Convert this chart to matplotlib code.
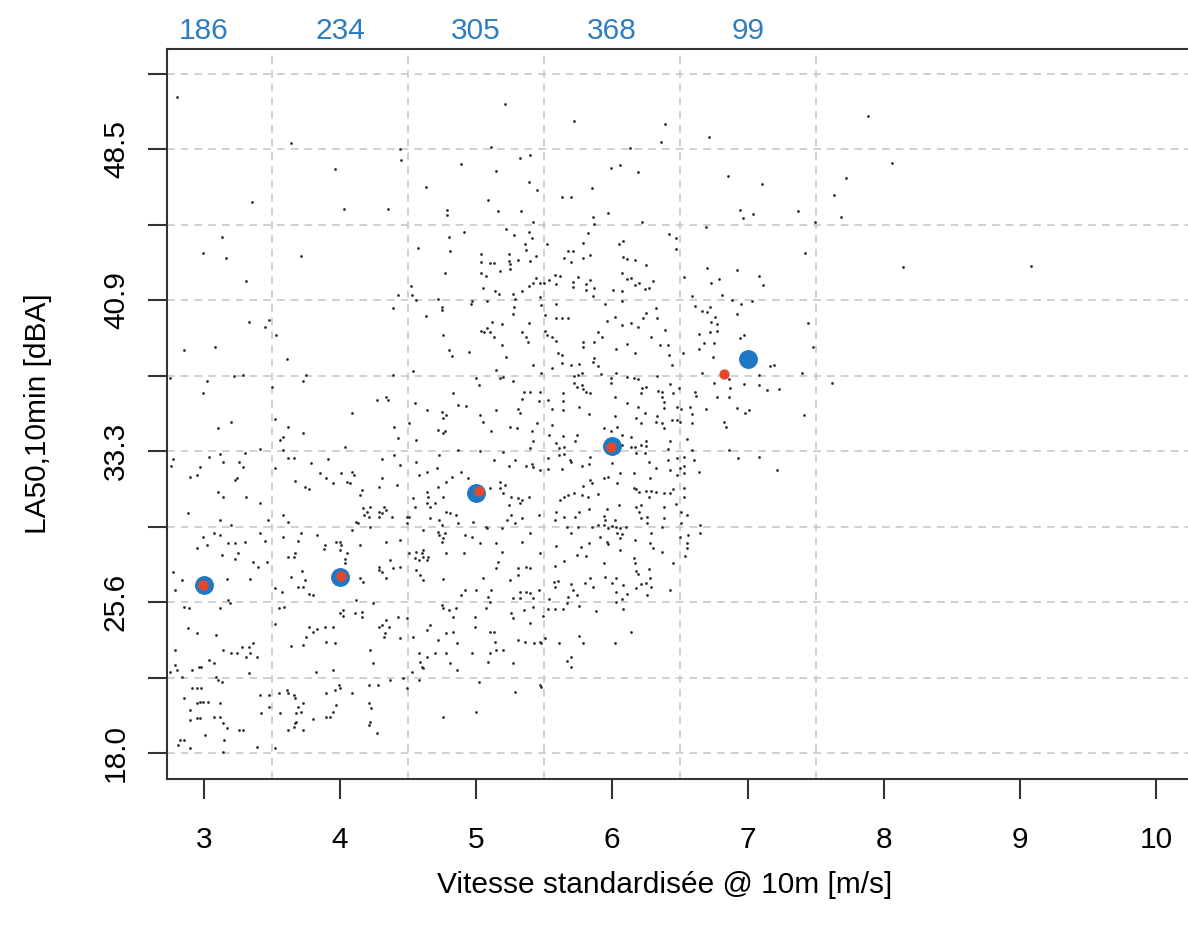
import matplotlib
matplotlib.use('Agg')
import matplotlib.pyplot as plt

plt.rcParams['font.family'] = ['Liberation Sans', 'DejaVu Sans']

# classes de vitesse (centres, bornes) et effectifs
speed_bins = [3, 4, 5, 6, 7]
bin_counts = [186, 234, 305, 368, 99]
bin_edges = [3.5, 4.5, 5.5, 6.5, 7.5]

# valeurs par classe (bleu) et valeurs retenues (rouge)
mean_speed = [3.0, 4.0, 5.0, 6.0, 7.0]
mean_level = [26.49, 26.91, 31.16, 33.53, 37.90]
fit_speed = [2.99, 4.01, 5.02, 5.99, 6.82]
fit_level = [26.49, 26.95, 31.26, 33.48, 37.14]

# axes
x_ticks = [3, 4, 5, 6, 7, 8, 9, 10]
y_ticks = [18.0, 21.8125, 25.625, 29.4375, 33.25, 37.0625, 40.875, 44.6875, 48.5, 52.3125]
y_labels = ['18.0', '', '25.6', '', '33.3', '', '40.9', '', '48.5', '']

pts_haut_gauche = [
    (2.80, 51.17), (3.64, 48.81), (4.44, 48.51), (4.45, 47.97), (3.96, 47.50), (3.35, 45.86), (4.03, 45.49),
    (4.35, 45.49), (5.21, 50.80), (5.11, 48.64), (5.32, 48.09), (5.40, 48.22), (4.89, 47.78), (5.15, 47.43),
    (4.63, 46.60), (5.39, 46.86), (5.45, 46.45), (5.09, 45.93), (5.16, 45.39), (5.33, 45.39), (4.79, 45.44),
    (4.79, 45.17), (5.42, 44.82), (5.22, 44.50), (4.91, 44.35), (5.39, 44.31), (5.28, 44.16), (5.41, 44.01),
    (4.80, 44.09), (5.36, 43.74), (5.37, 43.42), (4.81, 43.39), (4.57, 43.52), (3.13, 44.09), (2.99, 43.28),
    (3.16, 43.01), (3.71, 43.10), (5.04, 43.20), (5.24, 43.20), (5.04, 42.80), (5.10, 42.78), (5.13, 42.76),
    (5.24, 42.88), (5.25, 42.70), (5.31, 42.91), (5.40, 42.88), (5.44, 43.10), (5.18, 42.37), (5.25, 42.46),
    (4.77, 42.26), (5.04, 42.26), (5.07, 42.09), (5.44, 42.02), (5.42, 41.77), (5.47, 41.77), (5.39, 41.60),
    (3.31, 41.84), (4.52, 41.60), (4.43, 41.16), (4.53, 41.13), (4.56, 40.91), (4.72, 40.93), (5.05, 41.48),
    (5.14, 41.36), (5.17, 41.20), (5.27, 41.20), (5.34, 41.35), (5.29, 40.96), (5.47, 41.06), (4.97, 40.83),
    (4.96, 40.71), (5.08, 40.83), (4.39, 40.47), (4.75, 40.56), (4.75, 40.41), (5.28, 40.56), (5.27, 40.19),
    (4.63, 40.09), (3.33, 39.76), (3.45, 39.51), (3.48, 39.86), (3.53, 39.11), (5.12, 39.78), (5.19, 39.70),
    (5.39, 39.73), (4.76, 39.14), (5.04, 39.34), (5.06, 39.26), (5.08, 39.50), (5.10, 39.28), (5.13, 39.01),
    (5.34, 39.29), (5.37, 39.01), (5.38, 38.77), (5.19, 38.62), (4.80, 38.37), (4.82, 38.07), (4.95, 38.27),
    (5.22, 38.03), (2.85, 38.37), (3.08, 38.54), (3.61, 37.91),
]

pts_bas_gauche = [
    (2.75, 36.93), (3.02, 36.82), (3.22, 37.05), (3.29, 37.10), (2.99, 36.18), (3.50, 36.51), (3.73, 36.82),
    (3.75, 37.10), (4.39, 37.10), (4.54, 37.32), (5.15, 37.35), (5.18, 36.93), (5.20, 36.98), (5.27, 36.82),
    (5.00, 36.93), (5.02, 36.60), (5.42, 37.61), (5.35, 36.26), (5.40, 36.26), (5.47, 36.26),
    (4.27, 35.84), (4.34, 35.97), (4.35, 35.84), (4.09, 35.16), (4.55, 35.67), (4.64, 35.33), (4.75, 35.25),
    (4.76, 34.91), (4.78, 35.08), (4.83, 36.18), (4.87, 35.59), (4.93, 35.54), (5.03, 35.08), (5.05, 34.74),
    (5.15, 35.33), (5.25, 34.49), (5.31, 35.37), (5.32, 35.16), (5.34, 35.87), (5.46, 35.79), (5.30, 34.41),
    (5.41, 34.27), (5.45, 34.66), (5.11, 34.27), (5.42, 33.78), (3.10, 34.41), (3.20, 34.74), (3.52, 34.86),
    (3.62, 34.49), (3.56, 33.82), (3.58, 33.99), (3.73, 34.15), (4.04, 33.45), (4.40, 34.46), (4.43, 33.90),
    (4.51, 34.66), (4.56, 33.82), (4.72, 34.32), (4.76, 34.19), (4.77, 34.27),
    (2.77, 32.84), (2.76, 32.50), (2.90, 31.93), (2.95, 32.05), (2.97, 32.44), (3.04, 32.98), (3.12, 33.11),
    (3.14, 32.72), (3.23, 31.80), (3.24, 31.88), (3.26, 32.72), (3.30, 33.14), (3.29, 32.47), (3.41, 33.35),
    (3.52, 32.39), (3.58, 33.31), (3.62, 32.89), (3.66, 32.89), (3.79, 32.64), (3.85, 32.13), (3.91, 32.86),
    (3.90, 31.88), (3.95, 31.63), (4.01, 32.13), (4.05, 31.71), (4.07, 31.63), (4.09, 32.22), (4.10, 32.05),
    (3.67, 31.73), (3.74, 31.43), (3.77, 31.32), (4.16, 31.29), (4.15, 31.04), (4.29, 31.46), (4.31, 32.84),
    (4.40, 33.06), (4.44, 32.55), (4.42, 31.54), (4.31, 31.88), (4.58, 32.05), (4.64, 32.22), (4.64, 31.21),
    (4.65, 30.95), (4.56, 32.72), (4.71, 32.39), (4.72, 31.46), (4.78, 31.71), (4.76, 30.95), (4.82, 31.96),
    (4.89, 32.22), (4.87, 33.31), (4.73, 33.06), (4.94, 31.88), (5.03, 33.28), (5.13, 32.81), (5.20, 33.23),
    (5.24, 32.50), (5.29, 32.81), (5.37, 32.50), (5.41, 32.59), (5.42, 32.47), (5.47, 32.30), (5.10, 31.41),
    (5.18, 31.71), (5.18, 31.37), (5.20, 31.12), (5.21, 31.54), (5.26, 30.95), (5.31, 30.87), (5.34, 30.79),
    (5.32, 30.62), (5.39, 30.95), (5.40, 33.40),
    (3.10, 31.21), (3.14, 30.95), (3.31, 30.95), (3.41, 30.65), (2.88, 30.11), (3.12, 29.77), (3.20, 29.52),
    (3.47, 29.77), (3.45, 28.71), (3.41, 29.10), (3.58, 30.03), (3.62, 29.69), (3.58, 28.93), (3.71, 29.10),
    (3.69, 28.71), (3.83, 29.02), (3.88, 28.29), (3.89, 28.51), (4.00, 28.68), (4.01, 28.51), (4.12, 29.69),
    (4.13, 29.61), (4.09, 29.27), (4.15, 28.51), (4.17, 30.36), (4.18, 30.03), (4.20, 30.20), (4.22, 30.45),
    (4.21, 29.94), (4.29, 30.20), (4.31, 30.11), (4.29, 29.94), (4.32, 30.45), (4.34, 30.28), (4.38, 29.94),
    (4.22, 29.44), (4.34, 28.68), (4.44, 28.76), (4.49, 29.94), (4.49, 29.61), (4.51, 29.94), (4.54, 30.87),
    (4.55, 30.45), (4.61, 29.27), (4.64, 30.62), (4.66, 30.45), (4.66, 29.86), (4.70, 30.62), (4.72, 29.19),
    (4.73, 29.02), (4.75, 28.68), (4.76, 28.85), (4.77, 29.10), (4.73, 29.77), (4.75, 29.52), (4.81, 30.11),
    (4.85, 30.03), (4.87, 29.61), (4.78, 30.20), (4.92, 29.02), (4.97, 28.93), (4.98, 29.69), (5.03, 28.60),
    (5.07, 29.44), (5.08, 29.35), (5.15, 28.60), (5.24, 30.53), (5.26, 30.03), (5.29, 29.61), (5.34, 29.86),
    (5.46, 30.03), (5.40, 29.10), (5.34, 28.68), (5.19, 29.35), (5.23, 29.77),
    (2.77, 27.16), (2.84, 26.74), (2.79, 26.24), (2.95, 28.34), (2.99, 28.93), (3.07, 29.10), (3.12, 29.02),
    (3.02, 28.51), (3.13, 28.01), (3.18, 28.60), (3.23, 28.60), (3.25, 28.12), (3.23, 27.79), (3.30, 28.68),
    (3.36, 27.67), (3.40, 27.38), (3.46, 27.67), (3.34, 26.79), (3.17, 26.79), (3.52, 26.32), (3.57, 26.15),
    (3.62, 27.89), (3.66, 27.89), (3.67, 28.09), (3.72, 27.20), (3.74, 26.74), (3.69, 26.41), (3.73, 26.41),
    (3.80, 25.99), (3.77, 26.04), (3.64, 26.91), (3.97, 28.68), (4.00, 28.26), (4.04, 27.79), (4.04, 27.59),
    (4.05, 28.09), (4.15, 26.83), (4.17, 26.66), (4.29, 27.42), (4.29, 27.25), (4.37, 27.75), (4.39, 27.33),
    (4.44, 27.42), (4.34, 26.83), (4.31, 27.16), (4.51, 28.09), (4.55, 27.84), (4.56, 28.17), (4.60, 28.09),
    (4.61, 27.92), (4.64, 27.75), (4.65, 27.92), (4.58, 27.75), (4.61, 28.26), (4.56, 27.25), (4.59, 27.00),
    (4.61, 26.74), (4.76, 26.78), (4.78, 28.09), (4.91, 28.09), (4.92, 26.24), (4.89, 25.99), (5.00, 26.24),
    (5.05, 26.83), (5.11, 26.24), (5.09, 25.90), (5.15, 27.33), (5.16, 27.67), (5.19, 28.17), (5.25, 26.74),
    (5.31, 27.00), (5.32, 26.15), (5.32, 25.82), (5.37, 27.42), (5.40, 27.33), (5.37, 26.15), (5.46, 26.24),
    (5.47, 28.09), (5.31, 27.33), (5.40, 26.07), (5.42, 25.82), (5.27, 25.82),
    (2.85, 25.36), (2.89, 25.31), (2.88, 24.30), (2.95, 24.05), (3.09, 23.96), (3.12, 25.31), (3.18, 25.73),
    (3.19, 25.60), (3.24, 23.04), (3.33, 23.37), (3.36, 23.54), (3.34, 23.04), (3.39, 22.87), (3.52, 24.52),
    (3.55, 25.31), (3.59, 25.40), (3.64, 23.41), (3.73, 23.46), (3.75, 23.88), (3.77, 24.39), (3.80, 24.13),
    (3.83, 24.25), (3.89, 24.39), (3.90, 23.63), (3.96, 23.58), (3.95, 24.39), (4.00, 25.06), (4.02, 25.23),
    (4.02, 24.92), (4.11, 25.06), (4.12, 25.73), (4.16, 25.14), (4.16, 24.89), (4.24, 25.56), (4.29, 24.39),
    (4.31, 24.47), (4.34, 24.72), (4.36, 24.39), (4.33, 24.05), (4.32, 23.88), (4.43, 24.89), (4.44, 23.80),
    (4.49, 24.81), (4.54, 23.88), (4.64, 24.22), (4.66, 24.47), (4.72, 23.71), (4.75, 25.48), (4.76, 25.31),
    (4.80, 25.23), (4.83, 24.89), (4.85, 25.31), (4.78, 24.05), (4.83, 24.13), (4.86, 23.54), (4.99, 24.39),
    (4.99, 24.89), (5.07, 25.31), (5.10, 25.65), (5.13, 24.13), (5.26, 25.06), (5.27, 24.81), (5.35, 25.23),
    (5.40, 24.55), (5.42, 25.40), (5.43, 23.54), (5.47, 23.63), (5.14, 23.63), (5.10, 24.13), (5.31, 23.71),
    (5.36, 23.63),
    (2.79, 23.21), (2.79, 22.45), (2.80, 22.20), (2.75, 22.11), (2.84, 21.86), (2.91, 22.20), (2.96, 22.36),
    (2.98, 22.36), (3.04, 22.70), (3.07, 22.53), (3.09, 21.86), (3.10, 21.69), (3.13, 21.61), (3.14, 23.21),
    (3.20, 23.04), (3.28, 23.37), (3.31, 22.87), (3.33, 22.03), (2.91, 21.27), (2.95, 21.27), (2.98, 21.27),
    (3.41, 20.93), (3.48, 20.93), (3.55, 21.02), (3.61, 21.18), (3.62, 21.02), (3.66, 20.93), (3.67, 20.76),
    (3.82, 22.11), (3.95, 22.20), (3.90, 21.02), (3.96, 21.18), (3.99, 21.44), (4.00, 21.27), (4.09, 21.02),
    (4.21, 21.44), (4.22, 23.21), (4.24, 22.53), (4.28, 21.44), (4.37, 21.69), (4.46, 21.77), (4.49, 21.27),
    (4.53, 22.11), (4.58, 23.04), (4.59, 22.62), (4.60, 22.36), (4.61, 22.28), (4.64, 22.87), (4.58, 21.69),
    (4.70, 23.04), (4.78, 23.04), (4.81, 22.53), (4.86, 22.20), (4.97, 23.04), (5.02, 21.61), (5.09, 22.62),
    (5.10, 23.04), (5.15, 23.21), (5.20, 23.21), (5.27, 22.53), (5.29, 21.10), (5.47, 21.44),
    (2.85, 20.76), (2.90, 20.17), (2.95, 20.51), (2.97, 20.60), (2.99, 20.60), (3.03, 20.60), (2.90, 19.67),
    (2.95, 19.75), (2.97, 19.75), (3.07, 19.84), (3.12, 19.84), (3.14, 19.50), (3.12, 20.51), (3.17, 19.25),
    (3.26, 19.16), (3.29, 19.16), (3.01, 18.91), (3.15, 18.66), (2.82, 18.66), (2.81, 18.40), (2.85, 18.66),
    (2.90, 18.24), (3.14, 18.07), (3.39, 18.32), (3.42, 20.01), (3.48, 20.34), (3.52, 18.24), (3.56, 20.01),
    (3.62, 19.16), (3.66, 19.33), (3.67, 19.50), (3.68, 19.58), (3.68, 20.01), (3.69, 20.34), (3.71, 20.09),
    (3.73, 20.51), (3.73, 19.16), (3.80, 19.70), (3.90, 19.80), (3.93, 19.84), (3.95, 20.09), (3.97, 20.43),
    (4.21, 20.51), (4.23, 20.26), (4.22, 19.58), (4.21, 19.42), (4.27, 19.00), (4.76, 19.84), (5.00, 20.09),
]

pts_haut_milieu = [
    (5.72, 49.94), (6.39, 49.79), (6.36, 48.86), (6.13, 48.56), (6.71, 49.15), (5.99, 47.55), (6.06, 47.70),
    (6.19, 47.36), (5.85, 46.54), (5.63, 46.11), (5.70, 46.11), (6.85, 47.16), (7.10, 46.75), (5.97, 45.27),
    (5.86, 45.10), (5.87, 44.73), (6.22, 44.83), (6.94, 45.46), (6.96, 45.05), (7.04, 45.26), (7.37, 45.39),
    (7.49, 44.82), (6.69, 44.57), (5.82, 44.28), (6.42, 44.24), (6.47, 44.03), (6.47, 43.49), (5.52, 43.71),
    (5.79, 43.77), (6.05, 43.71), (6.08, 43.86), (5.68, 43.39), (5.71, 43.39), (5.65, 43.03), (5.79, 43.00),
    (5.84, 43.17), (5.70, 42.81), (6.08, 43.05), (6.11, 42.96), (6.17, 42.90), (6.25, 42.66), (7.42, 43.27),
    (6.70, 42.53), (6.92, 42.43), (5.58, 42.16), (5.62, 42.11), (5.54, 41.90), (5.50, 41.75), (5.59, 41.70),
    (5.75, 42.04), (5.71, 41.80), (5.71, 41.53), (5.84, 41.90), (5.81, 41.72), (5.87, 41.50), (5.81, 41.38),
    (6.07, 42.26), (6.11, 41.94), (6.14, 42.00), (6.17, 41.67), (6.20, 41.77), (6.24, 41.47), (6.27, 41.50),
    (6.30, 41.87), (6.01, 41.38), (6.07, 41.33), (5.86, 41.08), (6.53, 42.04), (6.73, 41.77), (6.79, 41.95),
    (7.08, 42.09), (7.11, 41.63), (5.48, 40.64), (5.59, 40.71), (5.95, 40.71), (6.07, 40.83), (6.59, 41.08),
    (6.61, 40.61), (6.81, 41.13), (6.88, 40.91), (6.95, 40.71), (7.03, 40.86), (5.51, 40.13), (5.59, 40.00),
    (5.63, 40.00), (5.68, 39.97), (5.96, 39.85), (6.02, 40.05), (6.07, 39.65), (6.14, 39.71), (6.19, 39.55),
    (6.23, 39.97), (6.25, 40.25), (6.32, 40.49), (6.33, 39.97), (6.66, 40.35), (6.70, 40.30), (6.72, 40.54),
    (6.76, 40.03), (6.92, 40.17), (5.51, 39.34), (5.52, 39.11), (5.56, 39.01), (5.59, 38.82), (5.90, 39.29),
    (5.93, 39.01), (6.29, 39.01), (6.39, 39.36), (5.79, 38.79), (5.79, 38.52), (5.87, 38.79), (5.60, 38.20),
    (5.63, 38.13), (5.87, 37.98), (6.03, 38.43), (6.11, 38.67), (6.17, 38.21), (6.35, 38.62), (6.41, 38.62),
    (6.42, 38.10), (6.52, 38.21), (6.64, 39.19), (6.64, 38.40), (6.68, 38.74), (6.72, 39.26), (6.73, 39.80),
    (6.77, 39.66), (6.77, 39.34), (6.75, 38.72), (6.74, 38.03), (6.94, 38.97), (6.97, 39.12), (7.44, 39.73),
    (7.48, 38.53), (7.63, 46.22),
]

pts_bas_milieu = [
    (5.63, 37.69), (5.70, 37.61), (5.76, 37.66), (5.86, 37.78), (5.90, 37.56), (5.56, 37.44), (5.48, 37.19),
    (5.72, 37.05), (5.75, 37.10), (5.78, 37.19), (5.92, 37.15), (6.03, 37.19), (5.99, 36.93), (5.99, 36.71),
    (6.11, 36.98), (6.16, 36.93), (6.19, 36.88), (6.33, 37.07), (6.44, 37.61), (6.43, 36.65), (5.72, 36.71),
    (5.74, 36.51), (5.78, 36.60), (5.79, 36.38), (5.81, 36.23), (5.84, 36.21), (5.64, 36.21), (6.22, 36.43),
    (6.25, 36.48), (6.21, 36.18), (6.34, 36.31), (6.37, 36.26), (6.45, 36.21), (6.49, 36.43), (6.66, 37.22),
    (6.61, 36.26), (6.62, 36.04), (6.75, 36.68), (6.86, 36.88), (6.87, 36.43), (6.97, 36.65), (7.08, 36.60),
    (7.14, 36.34), (7.23, 36.38), (7.08, 37.10), (7.16, 37.56), (7.19, 37.61), (7.40, 37.19), (7.62, 36.71),
    (5.53, 35.84), (5.64, 35.79), (5.56, 35.37), (5.64, 35.33), (5.76, 35.47), (5.83, 35.12), (6.02, 35.97),
    (6.11, 35.71), (6.02, 35.03), (6.19, 35.50), (6.24, 35.17), (6.18, 34.91), (6.21, 34.66), (6.33, 35.03),
    (6.32, 34.74), (6.37, 36.01), (6.38, 35.75), (6.38, 35.42), (6.37, 34.69), (6.38, 34.41), (6.44, 34.83),
    (6.48, 35.50), (6.48, 34.83), (6.50, 34.74), (6.51, 35.37), (6.59, 35.13), (6.59, 34.66), (6.57, 35.50),
    (6.69, 35.37), (6.77, 35.97), (6.86, 35.97), (6.92, 35.42), (6.98, 35.17), (7.01, 35.33), (6.82, 34.74),
    (6.84, 34.46), (7.41, 35.08), (5.56, 34.58), (5.54, 34.07), (5.74, 34.07), (5.73, 33.78), (5.64, 34.02),
    (5.94, 34.41), (5.99, 34.29), (6.04, 34.49), (6.07, 34.07), (6.14, 33.99), (6.25, 33.78), (6.43, 33.78),
    (6.55, 33.88),
    (5.59, 33.65), (5.61, 33.40), (5.65, 33.48), (5.61, 33.06), (5.65, 33.11), (5.53, 32.89), (5.69, 32.81),
    (5.84, 32.98), (6.07, 33.57), (6.14, 33.45), (6.17, 33.48), (6.21, 33.57), (6.25, 33.51), (6.18, 33.14),
    (6.24, 33.14), (6.41, 33.35), (6.48, 32.89), (6.53, 32.98), (6.59, 33.31), (6.60, 32.81), (6.86, 33.31),
    (6.93, 32.89), (7.08, 32.98), (7.21, 32.30), (5.53, 32.34), (5.63, 32.34), (5.70, 32.72), (5.78, 32.50),
    (5.83, 32.59), (6.00, 32.64), (6.06, 32.13), (6.16, 32.17), (6.27, 32.72), (6.32, 32.39), (6.28, 31.88),
    (6.41, 32.81), (6.43, 32.30), (6.48, 32.05), (6.50, 32.39), (6.53, 32.50), (6.53, 32.17), (6.64, 32.22),
    (5.94, 31.88), (5.97, 31.93), (6.04, 31.66), (5.84, 31.80), (5.79, 31.49), (5.85, 31.66), (6.16, 31.38),
    (6.18, 31.33), (6.20, 31.21), (6.25, 31.24), (6.29, 31.26), (6.32, 31.17), (6.38, 31.16), (6.43, 31.16),
    (6.45, 31.33), (6.53, 31.38), (6.53, 30.92),
    (5.62, 30.79), (5.65, 30.95), (5.68, 31.04), (5.72, 31.12), (5.78, 31.04), (5.82, 30.95), (5.90, 31.09),
    (5.83, 30.33), (5.76, 30.20), (5.73, 29.94), (5.65, 29.94), (5.59, 30.20), (5.58, 29.77), (6.05, 30.53),
    (5.96, 30.33), (5.94, 30.00), (5.95, 29.77), (6.02, 29.77), (6.18, 30.45), (6.21, 30.53), (6.20, 30.16),
    (6.21, 29.86), (6.26, 29.91), (6.26, 29.61), (6.27, 30.95), (6.38, 30.42), (6.38, 29.86), (6.47, 30.58),
    (6.51, 30.20), (6.55, 30.03), (6.51, 29.64), (6.65, 29.52), (6.65, 29.14), (5.67, 29.44), (5.70, 29.10),
    (5.75, 29.44), (5.85, 29.40), (5.90, 29.52), (5.94, 29.52), (5.97, 29.35), (6.00, 29.47), (6.03, 29.44),
    (6.06, 29.35), (6.10, 29.44), (6.04, 29.10), (6.07, 29.07), (6.06, 28.85), (5.91, 28.93), (5.96, 28.68),
    (5.97, 28.56), (5.83, 28.63), (5.77, 28.43), (6.29, 29.10), (6.37, 29.44), (6.50, 28.93), (6.56, 29.02),
    (6.17, 28.76), (6.28, 28.63), (5.59, 28.46),
    (5.74, 28.01), (5.81, 27.96), (5.65, 27.72), (5.58, 27.47), (6.16, 27.84), (6.17, 27.59), (6.06, 28.26),
    (6.18, 27.21), (6.19, 27.05), (6.27, 27.28), (6.30, 28.34), (6.37, 28.17), (6.45, 27.59), (6.55, 28.63),
    (6.55, 28.34), (6.54, 27.96), (5.94, 27.62), (5.95, 26.91), (6.00, 26.61), (6.03, 26.83), (6.08, 26.47),
    (5.84, 26.83), (5.86, 26.41), (5.80, 26.61), (5.57, 26.66), (5.60, 26.71), (5.58, 26.37), (5.70, 26.54),
    (5.71, 26.24), (5.74, 25.99), (5.76, 25.45), (5.68, 25.87), (5.67, 25.56), (5.54, 25.77), (5.58, 25.26),
    (5.53, 25.26), (5.64, 25.26), (5.49, 24.92), (6.03, 26.15), (6.07, 25.77), (6.11, 26.02), (6.03, 25.65),
    (6.08, 25.26), (6.18, 26.32), (6.21, 26.54), (6.25, 26.57), (6.26, 25.97), (6.29, 26.41), (6.28, 26.83),
    (6.43, 26.24), (5.88, 25.18), (6.14, 24.13), (5.51, 23.80), (5.48, 23.54), (5.61, 23.58), (5.76, 23.91),
    (5.79, 23.58), (6.02, 23.54), (5.67, 22.65), (5.70, 22.87), (5.70, 22.33), (5.48, 21.35),
]

pts_droite = [(7.88, 50.19), (8.06, 47.80), (7.72, 47.04), (7.68, 45.10), (8.14, 42.58), (9.08, 42.61)]

all_pts = pts_haut_gauche + pts_bas_gauche + pts_haut_milieu + pts_bas_milieu + pts_droite
speed = [p[0] for p in all_pts]
level = [p[1] for p in all_pts]

fig = plt.figure(figsize=(11.88, 9.31), dpi=100)
ax = fig.add_axes([167 / 1188, 1 - 779 / 931, 1021 / 1188, 730 / 931])

# grille pointillée
grid_style = dict(color='#c4c4c4', lw=1.1, ls=(0, (5, 4)), zorder=1)
for yv in y_ticks:
    ax.axhline(yv, **grid_style)
for xv in bin_edges:
    ax.axvline(xv, **grid_style)

ax.scatter(speed, level, s=4, c='#2e2e2e', linewidths=0, zorder=2)
ax.scatter(mean_speed, mean_level, s=185, c='#1f78c4', linewidths=0, zorder=3)
ax.scatter(fit_speed, fit_level, s=55, c='#e8482a', linewidths=0, zorder=4)

ax.set_xlim(2.728, 10.235)
ax.set_ylim(16.686, 53.574)

ax.set_xticks(x_ticks)
ax.set_xticklabels([str(v) for v in x_ticks])
ax.set_yticks(y_ticks)
ax.set_yticklabels(y_labels, rotation=90, va='center')

ax.tick_params(axis='x', length=14.5, width=1.5, color='#333333', labelsize=21.5, pad=19)
ax.tick_params(axis='y', length=13.7, width=1.5, color='#333333', labelsize=21.5, pad=13)

for side in ['left', 'bottom', 'top']:
    ax.spines[side].set_linewidth(1.5)
    ax.spines[side].set_color('#333333')
ax.spines['right'].set_visible(False)

# effectifs par classe au-dessus du cadre
for xv, n in zip(speed_bins, bin_counts):
    ax.text(xv, 1.024, str(n), transform=ax.get_xaxis_transform(), ha='center', va='center',
            color='#2f7dc1', fontsize=21.5)

fig.text(665 / 1188, 1 - 885 / 931, 'Vitesse standardisée @ 10m [m/s]', ha='center', va='center', fontsize=21.5)
fig.text(38 / 1188, 1 - 414 / 931, 'LA50,10min [dBA]', ha='center', va='center', rotation=90, fontsize=21.5)

fig.savefig('out.png', dpi=100)
